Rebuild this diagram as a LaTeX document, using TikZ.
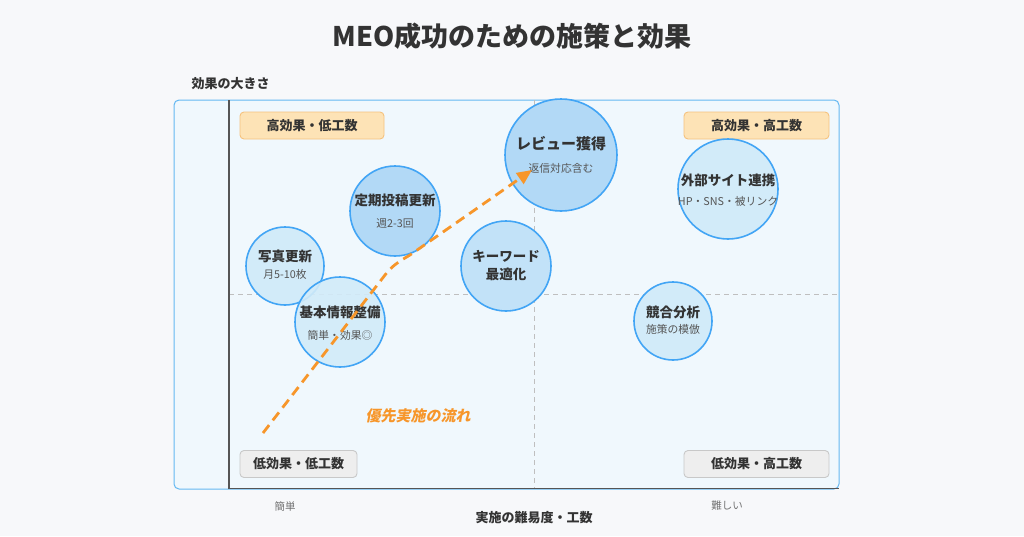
\documentclass[tikz,border=0pt]{standalone}
\usepackage{fontspec}
\setmainfont{Noto Sans CJK JP}
\newfontfamily\flowfont{Noto Sans CJK JP}[FakeSlant=0.2, BoldFeatures={FakeSlant=0.2}]
\usetikzlibrary{arrows.meta}
\definecolor{bg}{HTML}{F7F8FA}
\definecolor{panel}{HTML}{F0F8FD}
\definecolor{panelb}{HTML}{64B8F2}
\definecolor{axis}{HTML}{555555}
\definecolor{txt}{HTML}{333333}
\definecolor{sub}{HTML}{555555}
\definecolor{cb}{HTML}{42A5F5}
\definecolor{cfA}{HTML}{B2D9F6}
\definecolor{cfB}{HTML}{C2E2F8}
\definecolor{cfC}{HTML}{D2EBF9}
\definecolor{obox}{HTML}{FDE3B6}
\definecolor{oboxb}{HTML}{F5C27E}
\definecolor{gbox}{HTML}{EEEEEE}
\definecolor{gboxb}{HTML}{C8C8C8}
\definecolor{orng}{HTML}{F7962A}
\tikzset{
  circ/.style={circle, draw=cb, line width=1.6pt, inner sep=0pt, minimum size=#1},
  ttl/.style={font=\bfseries\fontsize{13.5}{15}\selectfont, text=txt},
  sbt/.style={font=\fontsize{10.8}{12}\selectfont, text=sub},
  qbox/.style={rounded corners=4pt, line width=0.9pt, minimum height=27pt, font=\bfseries\fontsize{13}{15}\selectfont, text=txt},
  hibox/.style={qbox, fill=obox, draw=oboxb},
  lobox/.style={qbox, fill=gbox, draw=gboxb},
}
\begin{document}
\begin{tikzpicture}[x=1pt,y=-1pt]
\useasboundingbox[fill=bg] (0,0) rectangle (1024,536);
% title
\node[font=\bfseries\fontsize{27}{30}\selectfont, text=txt] (title) at (512,36) {MEO成功のための施策と効果};
\node[font=\bfseries\fontsize{13}{15}\selectfont, text=txt, anchor=west] (ylab) at (188,84) {効果の大きさ};
% panel
\draw[fill=panel, draw=panelb, line width=1pt, rounded corners=5pt] (174,100) rectangle (839,489);
% midlines
\draw[draw=black!25, line width=0.8pt, dash pattern=on 5pt off 4pt] (534,100) -- (534,489);
\draw[draw=black!25, line width=0.8pt, dash pattern=on 5pt off 4pt] (229,294) -- (839,294);
% axes
\draw[axis, line width=1.8pt] (229,100) -- (229,488.5) -- (839,488.5);
% quadrant boxes
\node[hibox, minimum width=144pt] (q1) at (312,125.5) {高効果・低工数};
\node[hibox, minimum width=145pt] (q2) at (756.5,125.5) {高効果・高工数};
\node[lobox, minimum width=117pt] (q3) at (298.5,464) {低効果・低工数};
\node[lobox, minimum width=145pt] (q4) at (756.5,464) {低効果・高工数};
% circles
\node[circ=112pt, fill=cfA] (rev) at (561,155) {};
\node[ttl, font=\bfseries\fontsize{15}{17}\selectfont] at (561,144) {レビュー獲得};
\node[sbt] at (561,168) {返信対応含む};

\node[circ=100pt, fill=cfC] (ext) at (728,189) {};
\node[ttl] at (728,180) {外部サイト連携};
\node[sbt] at (728,201) {HP・SNS・被リンク};

\node[circ=90pt, fill=cfA] (post) at (395,211) {};
\node[ttl] at (395,200) {定期投稿更新};
\node[sbt] at (395,224) {週2-3回};

\node[circ=78pt, fill=cfC] (photo) at (285,266) {};
\node[ttl] at (285,256) {写真更新};
\node[sbt] at (285,274) {月5-10枚};

\node[circ=90pt, fill=cfB] (kw) at (506,266) {};
\node[ttl] at (506,256) {キーワード};
\node[ttl] at (506,274) {最適化};

\node[circ=90pt, fill=cfC, fill opacity=0.9] (basic) at (340,322) {};
\node[ttl] at (340,312) {基本情報整備};
\node[sbt] at (340,335) {簡単・効果◎};

\node[circ=78pt, fill=cfC] (comp) at (673,321) {};
\node[ttl] at (673,312) {競合分析};
\node[sbt] at (673,329) {施策の模倣};

% flow arrow
\coordinate (fs) at (263,433);
\coordinate (fe) at (532,170);
\draw[orng, line width=2.8pt, dash pattern=on 10pt off 6pt, -{Triangle[length=15pt,width=13pt]}]
  (fs) -- (385,275) .. controls (392,266) and (398,262) .. (410,255) -- (fe);
\node[font=\flowfont\bfseries\fontsize{15}{17}\selectfont, text=orng] (flow) at (418,416) {優先実施の流れ};

% axis labels
\node[font=\fontsize{10.5}{12}\selectfont, text=black!55] (easy) at (285,506) {簡単};
\node[font=\fontsize{10.5}{12}\selectfont, text=black!55] (hard) at (727,506) {難しい};
\node[font=\bfseries\fontsize{13}{15}\selectfont, text=txt] (xlab) at (534,518) {実施の難易度・工数};
\end{tikzpicture}
\end{document}
